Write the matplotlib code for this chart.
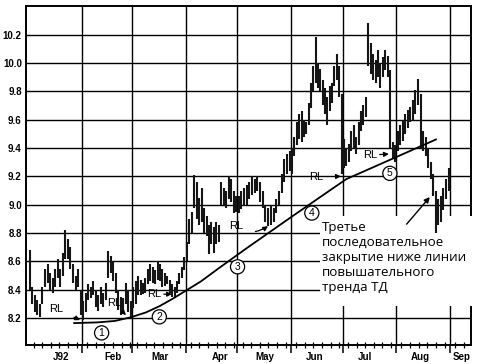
import numpy as np
import matplotlib.pyplot as plt
from matplotlib.patches import Rectangle

# Calendar: days counted from 1 Jan 1992
month_starts = [0, 31, 60, 91, 121, 152, 182, 213, 244]
month_names = ['J92', 'Feb', 'Mar', 'Apr', 'May', 'Jun', 'Jul', 'Aug', 'Sep']
label_days = [19, 49, 76, 111, 137, 166, 195, 227, 251]
price_ticks = [8.2, 8.4, 8.6, 8.8, 9.0, 9.2, 9.4, 9.6, 9.8, 10.0, 10.2]

# daily highs / lows, one list per month
jan_high = [8.68, 8.42, 8.36, 8.33, 8.30, 8.42, 8.55, 8.58, 8.52, 8.48, 8.55,
            8.62, 8.55, 8.66, 8.82, 8.76, 8.70, 8.58, 8.50, 8.55, 8.40]
jan_low = [8.40, 8.30, 8.24, 8.22, 8.21, 8.30, 8.42, 8.45, 8.40, 8.38, 8.42,
           8.48, 8.42, 8.50, 8.62, 8.62, 8.55, 8.45, 8.40, 8.42, 8.22]
feb_high = [8.32, 8.38, 8.44, 8.42, 8.46, 8.40, 8.36, 8.42, 8.38, 8.45,
            8.67, 8.64, 8.60, 8.52, 8.40, 8.35, 8.34, 8.45, 8.40, 8.32]
feb_low = [8.19, 8.24, 8.33, 8.34, 8.36, 8.28, 8.25, 8.30, 8.28, 8.33,
           8.48, 8.52, 8.46, 8.38, 8.26, 8.22, 8.23, 8.30, 8.24, 8.20]
mar_high = [8.42, 8.46, 8.50, 8.47, 8.45, 8.48, 8.55, 8.58, 8.56, 8.54, 8.60,
            8.58, 8.55, 8.52, 8.50, 8.47, 8.44, 8.42, 8.46, 8.52, 8.56, 8.63]
mar_low = [8.27, 8.30, 8.36, 8.36, 8.37, 8.38, 8.44, 8.46, 8.45, 8.44, 8.47,
           8.46, 8.42, 8.43, 8.44, 8.38, 8.35, 8.34, 8.38, 8.44, 8.48, 8.54]
apr_high = [8.74, 8.90, 8.95, 9.21, 9.16, 9.05, 9.12, 8.98, 8.92, 8.86, 8.88,
            8.84, 8.88, 8.86, 9.16, 9.12, 9.10, 9.20, 9.18, 9.10, 9.06]
apr_low = [8.60, 8.72, 8.80, 8.98, 8.90, 8.86, 8.88, 8.80, 8.78, 8.65, 8.72,
           8.66, 8.72, 8.74, 9.00, 9.00, 8.98, 9.04, 9.02, 8.94, 8.95]
may_high = [9.06, 9.10, 9.12, 9.14, 9.16, 9.20, 9.18, 9.20, 9.16, 9.10,
            9.00, 8.98, 9.00, 8.98, 9.04, 9.10, 9.22, 9.32, 9.36, 9.38]
may_low = [8.94, 8.97, 8.99, 9.00, 9.04, 9.07, 9.08, 9.10, 9.02, 8.98,
           8.88, 8.85, 8.86, 8.88, 8.94, 9.00, 9.08, 9.16, 9.22, 9.24]
jun_high = [9.40, 9.48, 9.58, 9.64, 9.66, 9.60, 9.58, 9.72, 9.86, 9.98, 10.18,
            10.00, 9.96, 9.88, 9.82, 9.76, 9.84, 9.86, 9.98, 10.06, 9.98, 9.78]
jun_low = [9.22, 9.34, 9.42, 9.46, 9.44, 9.48, 9.50, 9.56, 9.68, 9.80, 9.86,
           9.82, 9.80, 9.70, 9.64, 9.56, 9.66, 9.72, 9.84, 9.88, 9.76, 9.22]
jul_high = [9.46, 9.40, 9.43, 9.52, 9.56, 9.48, 9.58, 9.66, 9.70, 9.76, 10.28,
            10.14, 10.06, 10.02, 10.09, 10.00, 10.04, 10.09, 10.05, 9.95, 9.44, 9.42]
jul_low = [9.26, 9.27, 9.30, 9.38, 9.40, 9.36, 9.42, 9.52, 9.56, 9.62, 9.98,
           9.92, 9.88, 9.86, 9.90, 9.82, 9.90, 9.95, 9.90, 9.40, 9.32, 9.30]
aug_high = [9.52, 9.56, 9.60, 9.64, 9.67, 9.69, 9.74, 9.81, 9.89, 9.78, 9.52,
            9.48, 9.40, 9.30, 9.22, 9.10, 9.04, 9.06, 9.12, 9.18, 9.26]
aug_low = [9.38, 9.42, 9.45, 9.50, 9.54, 9.58, 9.60, 9.64, 9.70, 9.40, 9.38,
           9.34, 9.26, 9.18, 9.06, 8.80, 8.86, 8.88, 8.96, 9.04, 9.10]

highs = [jan_high, feb_high, mar_high, apr_high, may_high, jun_high, jul_high, aug_high]
lows = [jan_low, feb_low, mar_low, apr_low, may_low, jun_low, jul_low, aug_low]

# TD up-trend line
trend_days = [26.5, 40, 50, 59, 68, 76, 84, 92, 100, 110, 126, 153, 184, 236]
trend_prices = [8.165, 8.17, 8.18, 8.205, 8.24, 8.285, 8.34, 8.40, 8.46,
                8.55, 8.69, 8.92, 9.18, 9.46]

fig = plt.figure(figsize=(4.81, 3.64), dpi=100)
ax = fig.add_axes([0.054, 0.052, 0.925, 0.931])

# place each month's bars evenly over its calendar span
for m in range(8):
    n = len(highs[m])
    span = month_starts[m + 1] - month_starts[m]
    x = month_starts[m] + (np.arange(n) + 0.5) * span / n
    ax.vlines(x, lows[m], highs[m], color='#151515', lw=1.5, zorder=4)

ax.plot(trend_days, trend_prices, color='black', lw=1.3, zorder=5)

ax.set_xlim(-1.4, 256.2)
ax.set_ylim(8.01, 10.40)

ax.set_xticks(month_starts[1:])
ax.set_xticklabels([])
ax.set_xticks([s + k for s in month_starts for k in (3, 8, 13, 18, 23, 28)
               if 0 < s + k < 256], minor=True)
ax.tick_params(axis='x', which='major', direction='out', length=6, width=1.1)
ax.tick_params(axis='x', which='minor', direction='inout', length=4, width=0.9)
for d, name in zip(label_days, month_names):
    ax.text(d, -0.034, name, transform=ax.get_xaxis_transform(), ha='center',
            va='center', fontsize=7, fontweight='bold', family='Liberation Sans')

ax.set_yticks(price_ticks)
ax.set_yticklabels(['%.1f' % v for v in price_ticks], fontsize=7,
                   fontweight='bold', family='Liberation Sans')
ax.tick_params(axis='y', length=0, pad=3)

ax.grid(True, color='black', lw=1.0)
ax.set_axisbelow(True)
for s in ax.spines.values():
    s.set_linewidth(1.4)

# RL labels with arrows
rl_style = dict(arrowstyle='-|>', color='black', lw=0.9, mutation_scale=7)
rl_font = dict(fontsize=8, family='Liberation Sans', ha='center', va='center', zorder=6)
ax.annotate('RL', xy=(29.9, 8.186), xytext=(16.3, 8.264),
            arrowprops=dict(shrinkA=6, shrinkB=0, **rl_style), **rl_font)
ax.annotate('RL', xy=(56.5, 8.221), xytext=(49.5, 8.306),
            arrowprops=dict(shrinkA=6, shrinkB=0, **rl_style), **rl_font)
ax.annotate('RL', xy=(83.1, 8.369), xytext=(72.7, 8.369),
            arrowprops=dict(shrinkA=7, shrinkB=0, **rl_style), **rl_font)
ax.annotate('RL', xy=(138.7, 8.849), xytext=(120.1, 8.849),
            arrowprops=dict(shrinkA=7, shrinkB=0, connectionstyle='arc3,rad=0.35',
                            **rl_style), **rl_font)
ax.annotate('RL', xy=(180.9, 9.20), xytext=(166.4, 9.195),
            arrowprops=dict(shrinkA=7, shrinkB=0, **rl_style), **rl_font)
ax.annotate('RL', xy=(208.7, 9.357), xytext=(197.7, 9.35),
            arrowprops=dict(shrinkA=7, shrinkB=0, **rl_style), **rl_font)

# circled wave numbers
circle_pos = [(42.4, 8.096), (75.8, 8.209), (121.1, 8.562), (164.1, 8.941), (209.3, 9.221)]
for i, (d, p) in enumerate(circle_pos):
    ax.text(d, p, str(i + 1), ha='center', va='center', fontsize=7.5,
            family='Liberation Sans', zorder=6,
            bbox=dict(boxstyle='circle,pad=0.2', fc='white', ec='black', lw=0.9))

# white box behind the note (covers grid and right frame)
ax.add_patch(Rectangle((0.661, 0.115), 0.35, 0.266, transform=ax.transAxes,
                       fc='white', ec='none', zorder=3, clip_on=False))
ax.text(170.0, 8.885, 'Третье\nпоследовательное\nзакрытие ниже линии\nповышательного\nтренда ТД',
        ha='left', va='top', fontsize=9.6, family='Open Sans', linespacing=1.2,
        zorder=6)
ax.annotate('', xy=(232.4, 9.054), xytext=(219.0, 8.863),
            arrowprops=dict(arrowstyle='-|>', color='black', lw=1.0,
                            mutation_scale=8, shrinkA=0, shrinkB=0), zorder=6)

plt.savefig('out.png', dpi=100)
